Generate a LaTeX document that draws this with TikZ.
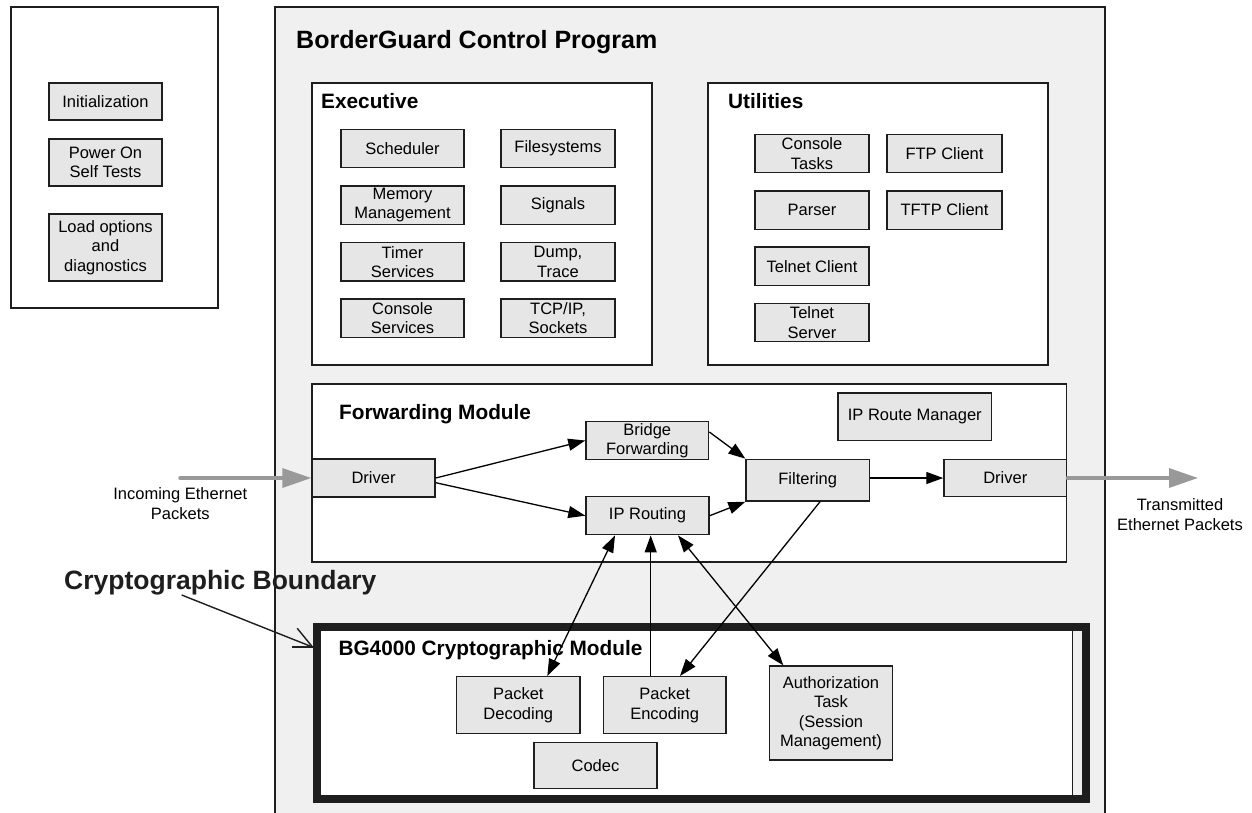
\documentclass[tikz,border=0pt]{standalone}
\usepackage{fontspec}
\setmainfont{Liberation Sans}
\usetikzlibrary{arrows.meta,calc}
\definecolor{boxfill}{HTML}{E6E6E6}
\definecolor{mainfill}{HTML}{F0F0F0}
\definecolor{linecol}{HTML}{1E1E1E}
\definecolor{arrgray}{HTML}{999999}
\begin{document}
\begin{tikzpicture}[x=1pt,y=-1pt,
  comp/.style={draw=linecol, line width=1.4pt, fill=boxfill, inner sep=0pt, align=center,
    font=\fontsize{16.5}{19.5}\selectfont, text=black},
  frame/.style={draw=linecol, line width=1.4pt, fill=white},
  heading/.style={anchor=base west, inner sep=0pt, font=\bfseries\fontsize{20.8}{24}\selectfont},
  plain/.style={inner sep=0pt, align=center, font=\fontsize{16.5}{20}\selectfont},
  conn/.style={draw=black, line width=1.3pt, -{Triangle[length=17pt,width=12pt]}},
  biconn/.style={draw=black, line width=1.3pt, {Triangle[length=17pt,width=12pt]}-{Triangle[length=17pt,width=12pt]}},
  bigarrow/.style={draw=arrgray, line width=3.4pt, line cap=round, -{Triangle[length=29pt,width=19pt]}},
]
\useasboundingbox (0,0) rectangle (1252,812);
\fill[white] (0,0) rectangle (1252,812);

% left box
\draw[frame] (11,7) rectangle (218,308);
\node[comp, minimum width=113pt, minimum height=37pt] (init) at (105.5,101.5) {Initialization};
\node[comp, minimum width=113pt, minimum height=47pt] (post) at (105.5,162.5) {Power On\\Self Tests};
\node[comp, minimum width=113pt, minimum height=67pt] (load) at (105.5,247.5) {Load options\\and\\diagnostics};

% main box
\fill[mainfill] (275,7) rectangle (1105,830);
\draw[linecol, line width=1.4pt] (275,830) -- (275,7) -- (1105,7) -- (1105,830);
\node[anchor=base west, inner sep=0pt, font=\bfseries\fontsize{25}{28}\selectfont] (title) at (296,48.3) {BorderGuard Control Program};

% executive
\draw[frame] (312,83) rectangle (652,365);
\node[heading] (exech) at (321,108.3) {Executive};
\node[comp, minimum width=123pt, minimum height=38.4pt] (sched) at (402.5,148.5) {Scheduler};
\node[comp, minimum width=123pt, minimum height=38.4pt] (mem) at (402.5,205.2) {Memory\\Management};
\node[comp, minimum width=123pt, minimum height=38.4pt] (timer) at (402.5,261.9) {Timer\\Services};
\node[comp, minimum width=123pt, minimum height=38.4pt] (cons) at (402.5,318) {Console\\Services};
\node[comp, minimum width=114pt, minimum height=38.4pt] (fs) at (558,148.5) {Filesystems};
\node[comp, minimum width=114pt, minimum height=38.4pt] (sig) at (558,205.2) {Signals};
\node[comp, minimum width=114pt, minimum height=38.4pt] (dump) at (558,261.9) {Dump,\\Trace};
\node[comp, minimum width=114pt, minimum height=38.4pt] (tcp) at (558,318) {TCP/IP,\\Sockets};

% utilities
\draw[frame] (708,83) rectangle (1048,365);
\node[heading] (utilh) at (728,108.3) {Utilities};
\node[comp, minimum width=114pt, minimum height=38.4pt] (ctask) at (812,153.5) {Console\\Tasks};
\node[comp, minimum width=114pt, minimum height=38.4pt] (parser) at (812,210) {Parser};
\node[comp, minimum width=114pt, minimum height=38.4pt] (tcli) at (812,266.2) {Telnet Client};
\node[comp, minimum width=114pt, minimum height=38.4pt] (tsrv) at (812,322.5) {Telnet\\Server};
\node[comp, minimum width=115pt, minimum height=38.4pt] (ftp) at (944.5,153.5) {FTP Client};
\node[comp, minimum width=115pt, minimum height=38.4pt] (tftp) at (944.5,210) {TFTP Client};

% forwarding module
\draw[frame] (312,384) rectangle (1066.7,562);
\node[heading] (fwdh) at (339,419) {Forwarding Module};
\node[comp, minimum width=123pt, minimum height=38pt] (drvL) at (373.5,478) {Driver};
\node[comp, minimum width=122.7pt, minimum height=37.6pt] (brdg) at (647.3,440.5) {Bridge\\Forwarding};
\node[comp, minimum width=123pt, minimum height=38pt] (iprt) at (647.5,515.7) {IP Routing};
\node[comp, minimum width=123.3pt, minimum height=41.7pt] (filt) at (807.7,480.2) {Filtering};
\node[comp, minimum width=122.7pt, minimum height=37.4pt] (drvR) at (1005.3,478) {Driver};
\node[comp, minimum width=153.7pt, minimum height=47.7pt] (iprm) at (914.8,416.8) {IP Route Manager};

% crypto module
\draw[draw=linecol, line width=8pt, fill=white] (316.7,627) rectangle (1086,799);
\fill[mainfill] (1072,631) rectangle (1082,795);
\draw[linecol, line width=0.8pt] (1072,631) -- (1072,795);
\node[heading] (cryh) at (338.3,655) {BG4000 Cryptographic Module};
\node[comp, minimum width=123.3pt, minimum height=56.6pt] (pdec) at (518.3,705) {Packet\\Decoding};
\node[comp, minimum width=122.7pt, minimum height=56.6pt] (penc) at (664.7,705) {Packet\\Encoding};
\node[comp, minimum width=123pt, minimum height=46pt] (codec) at (595.5,765.7) {Codec};
\node[comp, minimum width=123.4pt, minimum height=94pt] (auth) at (831,713) {Authorization\\Task\\(Session\\Management)};

% external labels
\node[plain] (inlbl) at (180.3,504) {Incoming Ethernet\\Packets};
\node[plain] (outlbl) at (1180,514.5) {Transmitted\\Ethernet Packets};
\coordinate (inA) at (180,478);
\coordinate (outA) at (1198,478);
\draw[bigarrow] (inA) -- (drvL.west);
\draw[bigarrow] (drvR.east) -- (outA);

% cryptographic boundary label
\node[anchor=base west, inner sep=0pt, text=linecol, font=\bfseries\fontsize{26.5}{30}\selectfont] (cbound) at (64,589.3) {Cryptographic Boundary};
\coordinate (cbs) at (181.7,595);
\coordinate (cbt) at (312.5,647);
\draw[linecol, line width=1.4pt] (cbs) -- (cbt);
\draw[linecol, line width=1.4pt] (cbt) -- ++(-21,0);
\draw[linecol, line width=1.4pt] (cbt) -- ++(-15.3,-18.7);

% forwarding connectors
\draw[conn] (drvL.east) -- (brdg.west);
\draw[conn] ([yshift=-4.7pt]drvL.east) -- (iprt.west);
\draw[conn] ([yshift=8.5pt]brdg.east) -- (filt.north west);
\draw[conn] (iprt.east) -- (filt.south west);
\draw[conn] (drvR.west -| filt.east) -- (drvR.west);

% crypto connectors
\draw[biconn] ([xshift=-32.5pt]iprt.south) -- ([xshift=29pt]pdec.north);
\draw[conn] ([xshift=-14pt]penc.north) -- ([xshift=-14pt]penc.north |- iprt.south);
\draw[biconn] ([xshift=30.5pt]iprt.south) -- ([xshift=-47.7pt]auth.north);
\draw[conn] ([xshift=12.3pt]filt.south) -- ([xshift=15.3pt]penc.north);
\end{tikzpicture}
\end{document}
